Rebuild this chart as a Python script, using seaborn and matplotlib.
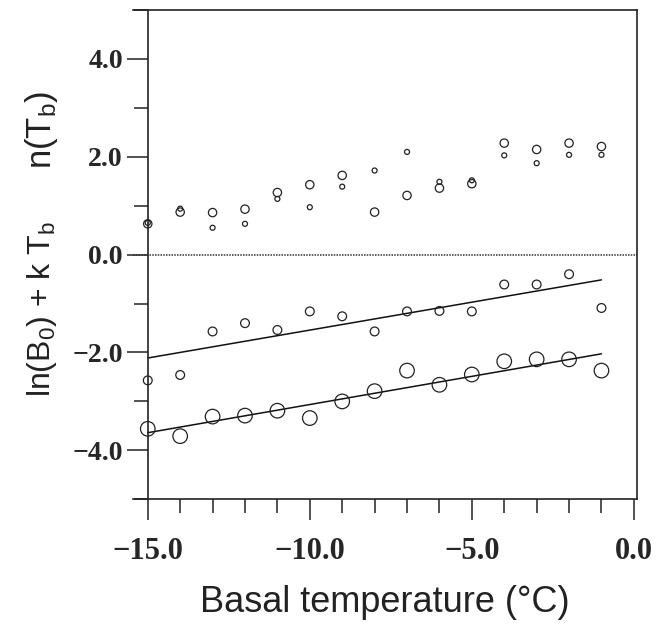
import numpy as np
import pandas as pd
import matplotlib
matplotlib.use("Agg")
import matplotlib.pyplot as plt
import matplotlib.transforms as mtransforms
from matplotlib.ticker import MultipleLocator, FuncFormatter
import seaborn as sns

# basal temperature (degC)
temp = [-15, -14, -13, -12, -11, -10, -9, -8, -7, -6, -5, -4, -3, -2, -1]

# n(Tb), two estimates (medium and small circles)
n_medium = [0.63, 0.87, 0.86, 0.93, 1.27, 1.43, 1.62, 0.87, 1.21, 1.36, 1.45, 2.28, 2.15, 2.28, 2.21]
n_small = [0.65, 0.94, 0.55, 0.63, 1.14, 0.97, 1.39, 1.72, 2.10, 1.49, 1.52, 2.03, 1.87, 2.04, 2.04]

# ln(B0) + k Tb, two series (upper: medium circles, lower: large circles)
b_upper = [-2.57, -2.46, -1.57, -1.40, -1.54, -1.16, -1.26, -1.57, -1.16, -1.15, -1.16, -0.61, -0.61, -0.40, -1.09]
b_lower = [-3.56, -3.71, -3.31, -3.29, -3.19, -3.34, -3.00, -2.79, -2.37, -2.66, -2.45, -2.18, -2.14, -2.14, -2.37]

sns.set_theme(style="ticks")
plt.rcParams['font.family'] = ['Liberation Sans', 'DejaVu Sans']
plt.rcParams['mathtext.fontset'] = 'custom'
plt.rcParams['mathtext.rm'] = 'Liberation Sans'
plt.rcParams['mathtext.it'] = 'Liberation Sans:italic'

df = pd.DataFrame({'temp': temp, 'n_medium': n_medium, 'n_small': n_small,
                   'b_upper': b_upper, 'b_lower': b_lower})

fig = plt.figure(figsize=(6.71, 6.28), dpi=100)
ax = fig.add_axes([0.198, 0.205, 0.751, 0.779])


def open_circles(col, size):
    sns.scatterplot(data=df, x='temp', y=col, s=size, color='black',
                    edgecolor='#222222', linewidth=0.9, ax=ax, zorder=3)
    ax.collections[-1].set_facecolor('none')


open_circles('n_medium', 36)
open_circles('n_small', 13)
open_circles('b_upper', 40)
open_circles('b_lower', 110)

for col in ['b_upper', 'b_lower']:
    sns.regplot(data=df, x='temp', y=col, scatter=False, ci=None, ax=ax,
                line_kws={'color': '#111111', 'linewidth': 1.1})

ax.axhline(0, color='#333333', linestyle=(0, (1, 0.8)), linewidth=1.1)

ax.set_xlim(-15.46, 0.09)
ax.set_ylim(-5, 5)
ax.spines['left'].set_position(('data', -15))
for sp in ax.spines.values():
    sp.set_linewidth(1.2)
    sp.set_color('#222222')

fmt = FuncFormatter(lambda v, pos: f"{v:.1f}".replace('-', '\u2212'))
ax.xaxis.set_major_locator(MultipleLocator(5))
ax.xaxis.set_minor_locator(MultipleLocator(1))
ax.yaxis.set_major_locator(MultipleLocator(2))
ax.yaxis.set_minor_locator(MultipleLocator(1))
ax.xaxis.set_major_formatter(fmt)
ax.yaxis.set_major_formatter(fmt)
ax.tick_params(which='major', direction='out', length=15, width=1.1, color='#222222')
ax.tick_params(which='minor', direction='out', length=10, width=1.1, color='#222222')
ax.tick_params(axis='x', which='major', pad=12)
ax.tick_params(axis='y', which='major', pad=3)
for lab in ax.get_xticklabels():
    lab.set_fontfamily(['Liberation Serif', 'DejaVu Serif'])
    lab.set_fontweight('bold')
    lab.set_fontsize(22)
for lab in ax.get_yticklabels():
    lab.set_fontfamily(['Liberation Serif', 'DejaVu Serif'])
    lab.set_fontweight('bold')
    lab.set_fontsize(20)

ax.set_xlabel('Basal temperature (°C)', fontsize=26, labelpad=14, color='#222222')
ax.set_ylabel('')

trans = mtransforms.blended_transform_factory(fig.transFigure, ax.transData)
ax.text(0.062, 2.55, r'n(T$_\mathrm{b}$)', transform=trans, rotation=90,
        ha='center', va='center', fontsize=25, color='#222222')
ax.text(0.062, -1.12, r'ln(B$_\mathrm{0}$) + k T$_\mathrm{b}$', transform=trans, rotation=90,
        ha='center', va='center', fontsize=23, color='#222222')

fig.savefig('out.png', dpi=100)
